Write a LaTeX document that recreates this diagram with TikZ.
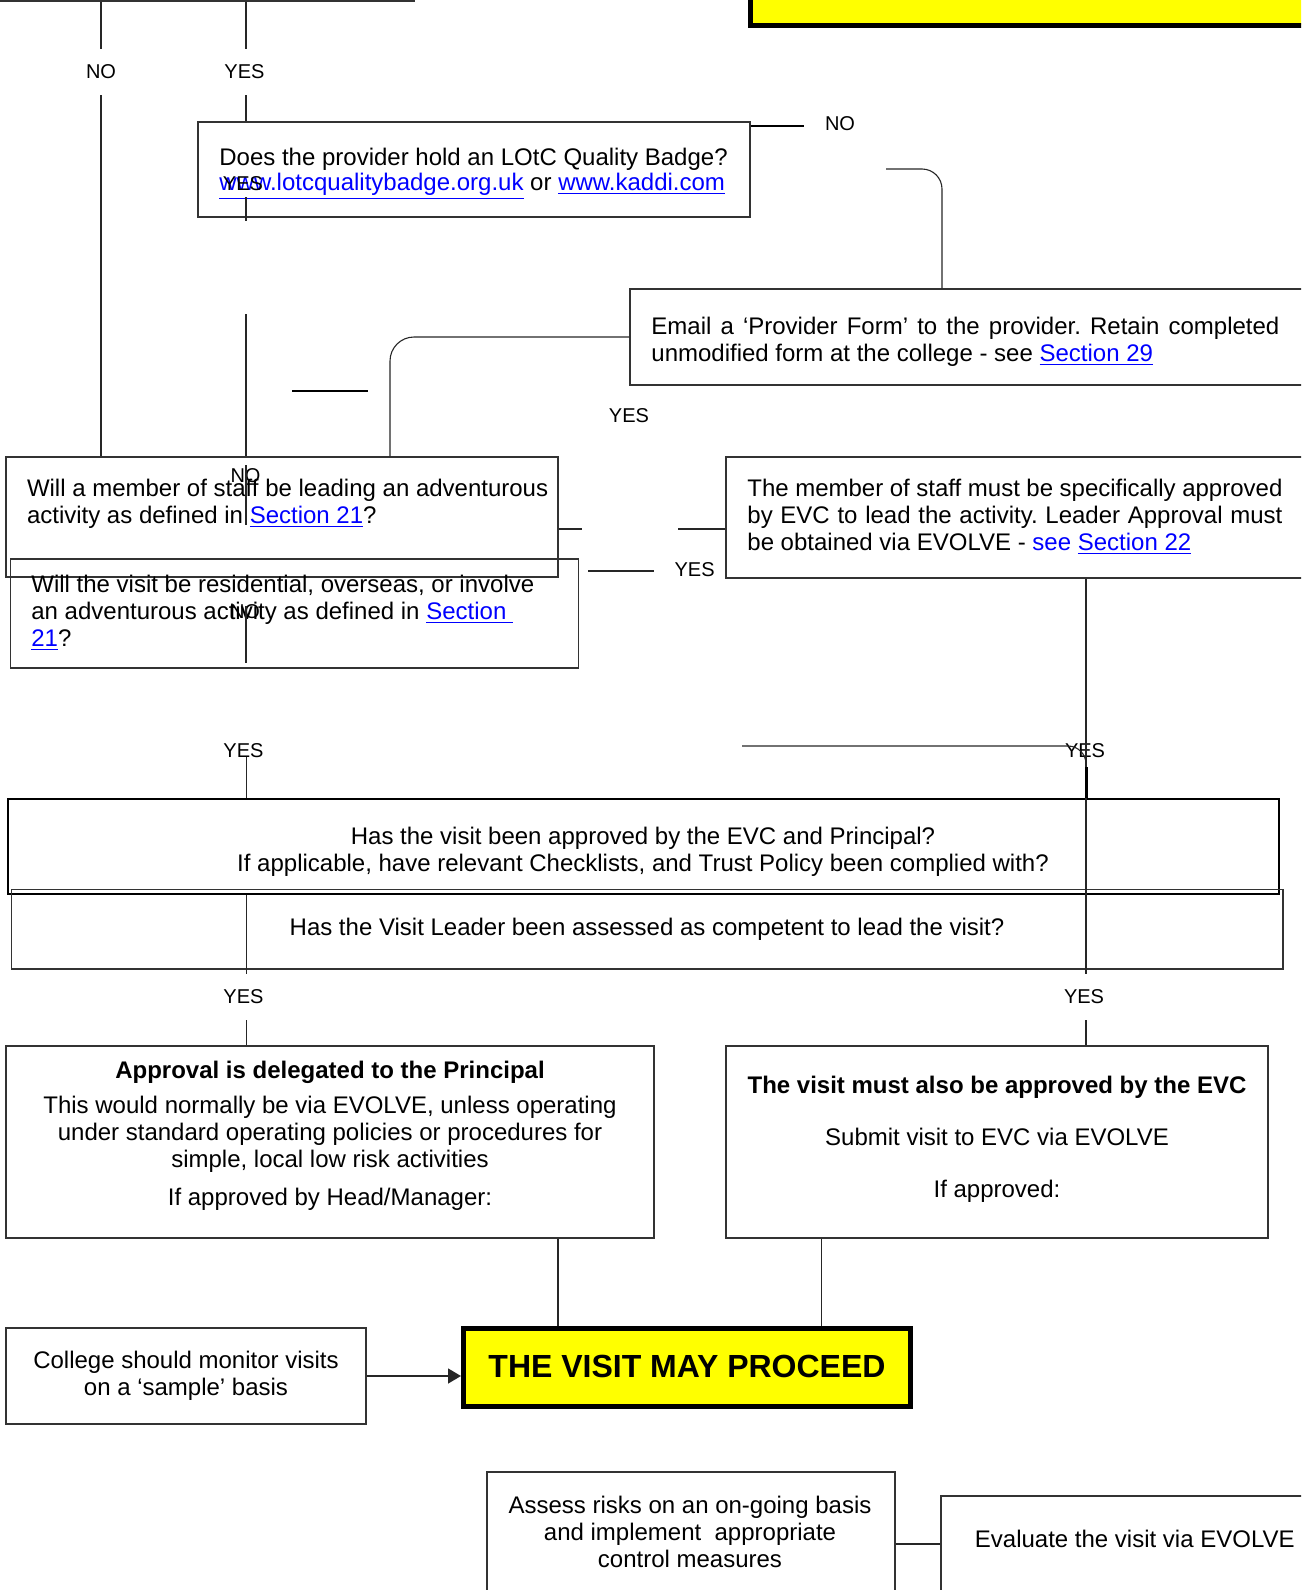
\documentclass[tikz,border=0pt]{standalone}
\usepackage{fontspec}
\setmainfont{Liberation Sans}
\usetikzlibrary{arrows.meta}
\definecolor{linkblue}{RGB}{0,0,255}
\definecolor{goalyellow}{RGB}{255,255,0}
\newcommand{\lnk}[1]{\textcolor{linkblue}{\underline{#1}}}
\newcommand{\bodysize}{\fontsize{12}{13.5}\selectfont\frenchspacing}

\begin{document}
\begin{tikzpicture}[x=0.5pt,y=-0.5pt]
  \tikzstyle{box}=[draw=black!80,line width=0.6pt,inner sep=0pt,font=\bodysize,align=center]
  \tikzstyle{heavybox}=[draw=black,line width=1pt,inner sep=0pt]
  \tikzstyle{goal}=[draw=black,line width=2.5pt,fill=goalyellow,inner sep=0pt]
  \tikzstyle{txt}=[inner sep=0pt,font=\bodysize]
  \tikzstyle{answer}=[inner xsep=0pt,inner ysep=8pt,font=\fontsize{10}{12}\selectfont]
  \tikzstyle{wire}=[draw=black!85,line width=0.55pt]
  \tikzstyle{heavy}=[draw=black,line width=1pt]
  \useasboundingbox (0,0) rectangle (1301,1590);
  \clip (0,0) rectangle (1301,1590);
  % boxes
  \node[box,minimum width=212pt,minimum height=20pt] (start) at (202,-19) {};
  \node[goal,minimum width=289.75pt,minimum height=40pt] (topgoal) at (1040,-15) {};
  \node[box,minimum width=276pt,minimum height=47.5pt] (badge) at (474,169.5) {};
  \node[box,minimum width=350pt,minimum height=48pt] (email) at (980,337) {};
  \node[box,minimum width=276pt,minimum height=60pt] (staffq) at (282,517) {};
  \node[box,minimum width=284pt,minimum height=54.5pt] (visitq) at (294.5,613.5) {};
  \node[box,minimum width=302pt,minimum height=60.5pt] (member) at (1028,517.5) {};
  \node[heavybox,minimum width=635.5pt,minimum height=47.5pt] (approval) at (643.5,846.5) {};
  \node[box,minimum width=635.75pt,minimum height=39.75pt] (leader) at (647.25,929.25) {};
  \node[box,minimum width=324pt,minimum height=96pt] (delegate) at (330,1142) {};
  \node[box,minimum width=271pt,minimum height=96pt] (evcbox) at (997,1142) {};
  \node[goal,minimum width=223.5pt,minimum height=39pt,text depth=1.5pt,font=\fontsize{16}{18}\selectfont\bfseries] (proceed) at (687,1367.5) {THE VISIT MAY PROCEED};
  \node[box,minimum width=180pt,minimum height=48pt] (monitor) at (186,1376) {College should monitor visits\\on a ‘sample’ basis};
  \node[box,minimum width=204pt,minimum height=84pt] (assess) at (691,1556) {};
  \node[box,minimum width=199.5pt,minimum height=72pt] (evaluate) at (1140.5,1568) {};
  % texts
  \node[txt,anchor=west,align=left] (badgetxt) at (219,174) {Does the provider hold an LOtC Quality Badge?\\[-1pt]\lnk{www.lotcqualitybadge.org.uk} or \lnk{www.kaddi.com}};
  \node[txt,anchor=west,text width=314pt,align=justify] (emailtxt) at (651,341.5) {Email a ‘Provider Form’ to the provider. Retain completed\linebreak unmodified form at the college - see \lnk{Section 29}};
  \node[txt,anchor=west,align=left] (staffqtxt) at (26.6,504) {Will a member of staff be leading an adventurous\\activity as defined in \lnk{Section 21}?};
  \node[txt,anchor=west,align=left] (visitqtxt) at (31,612.5) {Will the visit be residential, overseas, or involve\\an adventurous activity as defined in \lnk{Section\ }\\\lnk{21}?};
  \node[txt,anchor=west,text width=267.5pt,align=justify] (membertxt) at (747,517) {The member of staff must be specifically approved\linebreak by EVC to lead the activity. Leader Approval must\linebreak be obtained via EVOLVE - \textcolor{linkblue}{see} \lnk{Section 22}};
  \node[txt,align=center] (approvaltxt) at (643,852) {Has the visit been approved by the EVC and Principal?\\If applicable, have relevant Checklists, and Trust Policy been complied with?};
  \node[txt] (leadertxt) at (647,929) {Has the Visit Leader been assessed as competent to lead the visit?};
  \node[txt,align=center] (delegatetxt) at (330,1136) {\textbf{Approval is delegated to the Principal}\\[4pt]This would normally be via EVOLVE, unless operating\\under standard operating policies or procedures for\\simple, local low risk activities\\[5.5pt]If approved by Head/Manager:};
  \node[txt,align=center] (evctxt) at (997,1139) {\textbf{The visit must also be approved by the EVC}\\[12.5pt]Submit visit to EVC via EVOLVE\\[12.5pt]If approved:};
  \node[txt,align=center] (assesstxt) at (690,1532) {Assess risks on an on-going basis\\and implement\ \ appropriate\\control measures};
  \node[txt,anchor=west] (evaluatetxt) at (974.5,1538.5) {Evaluate the visit via EVOLVE};
  % answers
  \node[answer] (no1) at (101,72) {NO};
  \node[answer] (yes1) at (244.5,72) {YES};
  \node[answer] (no2) at (840,124) {NO};
  \node[answer] (yes2) at (243,184) {YES};
  \node[answer] (yes3) at (629,416) {YES};
  \node[answer] (no3) at (245.5,476) {NO};
  \node[answer] (no4) at (245,612) {NO};
  \node[answer] (yes4) at (694.6,570) {YES};
  \node[answer] (yes5) at (243.5,751) {YES};
  \node[answer] (yes6) at (1085,751) {YES};
  \node[answer] (yes7) at (243.5,997) {YES};
  \node[answer] (yes8) at (1084,997) {YES};
  % loose ends
  \coordinate (badgefoot) at (246,221);
  \coordinate (badgemid) at (246,197);
  \coordinate (nostub) at (804,126);
  \coordinate (formstub) at (886,169);
  \coordinate (formdrop) at (942,0);
  \coordinate (staffdrop) at (390,0);
  \coordinate (midtop) at (246,314);
  \coordinate (cut1) at (246,465);
  \coordinate (cut2) at (246,525);
  \coordinate (cut3) at (246,606);
  \coordinate (cut4) at (246,663);
  \coordinate (dash1) at (292,391);
  \coordinate (dash2) at (368,391);
  \coordinate (stubA) at (582,529);
  \coordinate (stubB) at (678,529);
  \coordinate (stubC) at (588,571);
  \coordinate (stubD) at (654,571);
  \coordinate (rightdrop) at (1086,0);
  \coordinate (bendstart) at (742,746);
  \coordinate (bendend) at (1086,767);
  \coordinate (leftdrop) at (246.5,757);
  \coordinate (joinA) at (558,0);
  \coordinate (joinB) at (821.6,0);
  \coordinate (tie) at (900,1544);
  % connectors
  \draw[wire] (start.south -| no1) -- (no1.north);
  \draw[wire] (no1.south) -- (no1 |- staffq.north);
  \draw[wire] (start.south -| badgemid) -- (badgemid |- yes1.north);
  \draw[wire] (badgemid |- yes1.south) -- (badgemid |- badge.north);
  \draw[wire] (badgemid) -- (badgefoot);
  \draw[heavy] (badge.east |- nostub) -- (nostub);
  \draw[wire,rounded corners=10pt] (formstub) -| (formdrop |- email.north);
  \draw[wire,rounded corners=12pt] (email.west) -| (staffdrop |- staffq.north);
  \draw[wire] (midtop) -- (midtop |- staffq.north);
  \draw[wire] (cut1) -- (cut2);
  \draw[wire] (cut3) -- (cut4);
  \draw[heavy] (dash1) -- (dash2);
  \draw[wire] (staffq.east |- stubA) -- (stubA);
  \draw[wire] (stubB) -- (stubB -| member.west);
  \draw[wire] (stubC) -- (stubD);
  \draw[wire] (rightdrop |- member.south) -- (rightdrop |- yes8.north);
  \draw[wire,rounded corners=9pt] (bendstart) -| (bendend);
  \draw[line width=1.5pt] (bendend) -- (rightdrop |- approval.north);
  \draw[wire] (leftdrop) -- (leftdrop |- approval.north);
  \draw[wire] (leftdrop |- approval.south) -- (leftdrop |- yes7.north);
  \draw[wire] (leftdrop |- yes7.south) -- (leftdrop |- delegate.north);
  \draw[wire] (rightdrop |- yes8.south) -- (rightdrop |- evcbox.north);
  \draw[wire] (joinA |- delegate.south) -- (joinA |- proceed.north);
  \draw[wire] (joinB |- evcbox.south) -- (joinB |- proceed.north);
  \draw[wire,line width=0.75pt,-{Triangle[length=6.5pt,width=7.5pt]}] (monitor.east) -- (monitor.east -| proceed.west);
  \draw[wire] (assess.east |- tie) -- (evaluate.west |- tie);
\end{tikzpicture}
\end{document}
